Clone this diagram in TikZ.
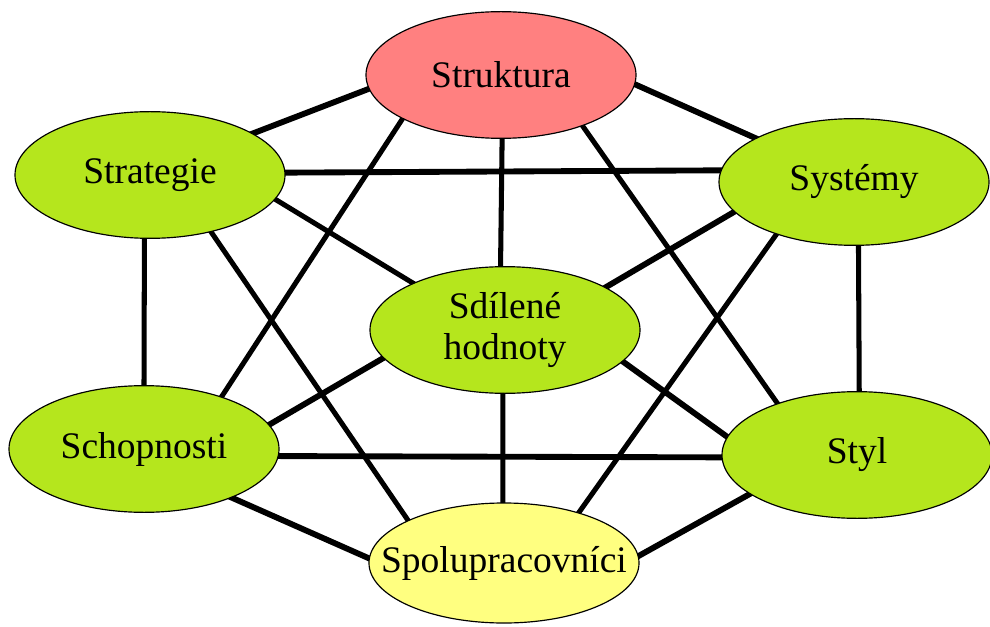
\documentclass[tikz,border=0pt]{standalone}
\usepackage{fontspec}
\setmainfont{Liberation Serif}
\usetikzlibrary{shapes.geometric,backgrounds}
\definecolor{lgreen}{RGB}{181,230,29}
\definecolor{lpink}{RGB}{255,128,128}
\definecolor{lyellow}{RGB}{255,255,128}
\tikzset{
  oval/.style={ellipse, draw=black, line width=1pt, inner sep=0pt,
    minimum width=8.1cm, minimum height=3.8cm, align=center,
    font=\fontsize{32}{35}\selectfont},
  link/.style={line width=4.3pt, black, shorten <=-5pt, shorten >=-5pt},
  biglink/.style={link, line width=5pt}
}
\begin{document}
\begin{tikzpicture}[x=0.03cm, y=-0.03cm]
\useasboundingbox (0,0) rectangle (990,627);
\node[oval, fill=lpink] (struk) at (501,75) {Struktura};
\node[oval, fill=lgreen] (strat) at (150,175) {Strategie};
\node[oval, fill=lgreen] (sys) at (854,182) {Systémy};
\node[oval, fill=lgreen] (sdil) at (505,330) {Sdílené\\hodnoty};
\node[oval, fill=lgreen] (schop) at (144,449) {Schopnosti};
\node[oval, fill=lgreen] (styl) at (857,455) {Styl};
\node[oval, fill=lyellow, minimum height=3.6cm] (spol) at (504,563) {\makebox[0pt]{Spolupracovníci}};
\begin{scope}[on background layer]
\draw[biglink] (struk.186) -- (strat.22);
\draw[biglink] (struk.356) -- (sys.156);
\draw[link] (struk.271) -- (sdil.94);
\draw[link] (struk.204) -- (schop.34);
\draw[link] (struk.328) -- (styl.147);
\draw[biglink] (strat.1) -- (sys.175);
\draw[link] (strat.349) -- (sdil.153);
\draw[link] (strat.265) -- (schop.90);
\draw[link] (strat.317) -- (spol.156);
\draw[biglink] (sys.194) -- (sdil.23);
\draw[link] (sys.274) -- (styl.88);
\draw[link] (sys.214) -- (spol.34);
\draw[biglink] (sdil.193) -- (schop.11);
\draw[biglink] (sdil.345) -- (styl.172);
\draw[link] (sdil.268) -- (spol.91);
\draw[biglink] (schop.357) -- (styl.181);
\draw[biglink] (schop.331) -- (spol.178);
\draw[biglink] (styl.200) -- (spol.3);
\end{scope}
\end{tikzpicture}
\end{document}
